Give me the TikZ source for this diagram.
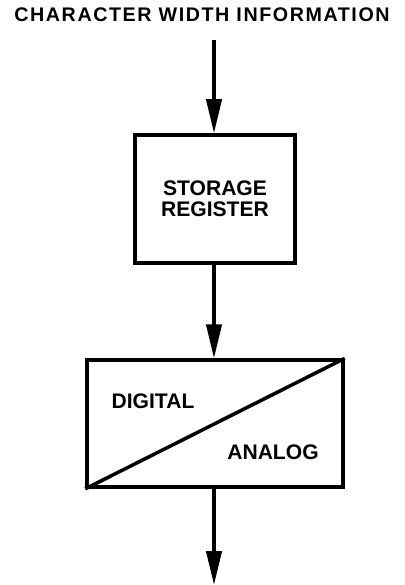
\documentclass[tikz,border=0pt]{standalone}
\usepackage{fontspec}
\setmainfont{Liberation Sans}
\newfontfamily\spacedfont[LetterSpace=8]{Liberation Sans}
\usepackage{tikz}
\usetikzlibrary{arrows.meta,positioning,calc}

\tikzset{
  blockbox/.style={draw, line width=2.5pt, minimum width=#1, minimum height=3.2cm, inner sep=0pt},
  flowarrow/.style={line width=2.5pt, -{Triangle[length=8.5mm, width=3.8mm]}},
  boxlabel/.style={font=\fontsize{15}{15}\selectfont\bfseries, align=center}
}

\begin{document}
\begin{tikzpicture}
        \useasboundingbox (0,0) rectangle (10.125,-14.625);
        \node[font=\fontsize{14}{16}\spacedfont\bfseries] (title) at (5.05,-0.375) {CHARACTER WIDTH INFORMATION};
        \coordinate (in) at (5.35,-1.0);
        \node[blockbox=4cm, boxlabel] (storage) at (5.375,-4.975) {STORAGE\\REGISTER};
        \node[blockbox=6.4cm, minimum height=3.175cm] (dac) at (5.375,-10.59) {};
        \coordinate (out) at (5.35,-14.625);
        % arrows
        \draw[flowarrow] (in) -- (in |- storage.north);
        \draw[flowarrow] (storage.south -| in) -- (in |- dac.north);
        \draw[flowarrow] (dac.south -| in) -- (out);
        % converter split
        \draw[line width=2.5pt] (dac.south west) -- (dac.north east);
        \node[boxlabel] (digital) at (3.825,-10.025) {DIGITAL};
        \node[boxlabel] (analog) at (6.825,-11.3) {ANALOG};
      \end{tikzpicture}
\end{document}
